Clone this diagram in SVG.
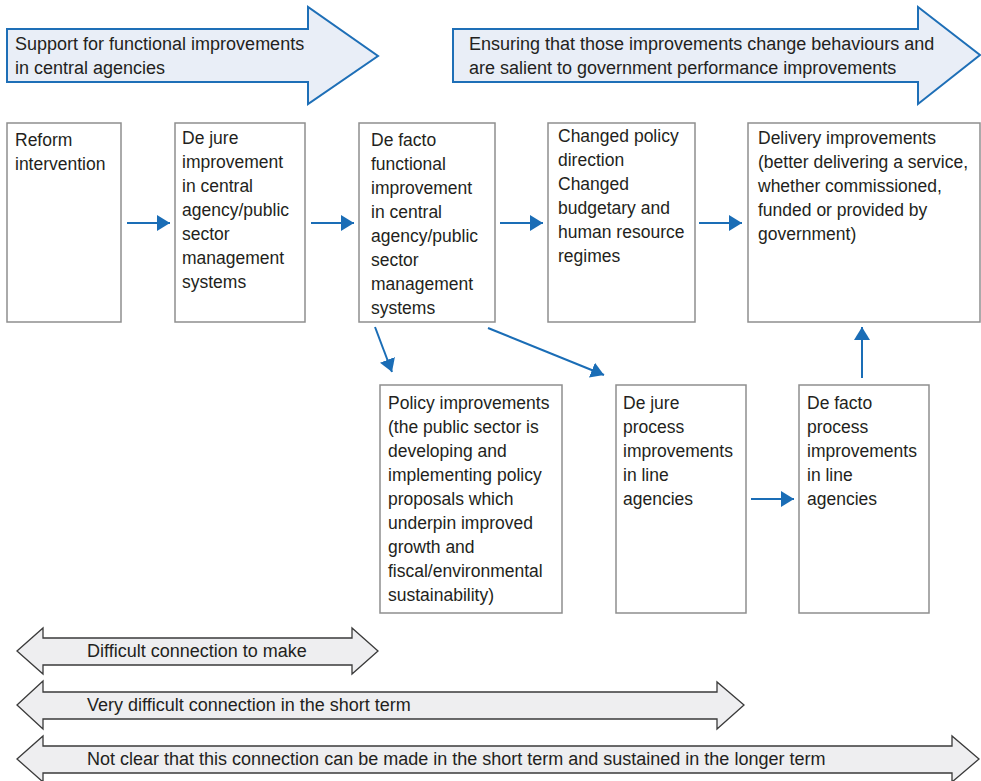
<svg xmlns="http://www.w3.org/2000/svg" width="981" height="781" viewBox="0 0 981 781">
<defs>
<style>
.band{fill:#e9eef7;stroke:#1e6fb7;stroke-width:2}
.box{fill:#ffffff;stroke:#8e8e8e;stroke-width:1.5}
.t{font-family:"Liberation Sans",Arial,sans-serif;font-size:17.5px;fill:#231f20}
.tb{font-family:"Liberation Sans",Arial,sans-serif;font-size:18px;fill:#231f20}
.conn{stroke:#1a6db6;stroke-width:2;fill:none}
.dbl{fill:#eeeef0;stroke:#3a3a3a;stroke-width:1.3}
</style>
<marker id="ah" markerUnits="userSpaceOnUse" markerWidth="14" markerHeight="16" refX="13" refY="8" orient="auto">
<path d="M0,0 L13,8 L0,16 Z" fill="#1a6db6"/>
</marker>
</defs>
<rect width="981" height="781" fill="#ffffff"/>

<g id="band1">
<polygon class="band" points="7,29 308,29 308,7 378,56 308,104 308,82 7,82"/>
<text class="tb" x="15" y="50">Support for functional improvements</text>
<text class="tb" x="15" y="74">in central agencies</text>
</g>
<g id="band2">
<polygon class="band" points="453,29 918,29 918,7 980,55 918,104 918,82 453,82"/>
<text class="tb" x="469" y="50">Ensuring that those improvements change behaviours and</text>
<text class="tb" x="469" y="74">are salient to government performance improvements</text>
</g>

<g id="n1">
<rect class="box" x="7" y="123" width="114" height="199"/>
<text class="t" x="15" y="146">Reform</text>
<text class="t" x="15" y="170">intervention</text>
</g>
<g id="n2">
<rect class="box" x="175" y="123" width="130" height="199"/>
<text class="t" x="182" y="144">De jure</text>
<text class="t" x="182" y="168">improvement</text>
<text class="t" x="182" y="192">in central</text>
<text class="t" x="182" y="216">agency/public</text>
<text class="t" x="182" y="240">sector</text>
<text class="t" x="182" y="264">management</text>
<text class="t" x="182" y="288">systems</text>
</g>
<g id="n3">
<rect class="box" x="359" y="123" width="136" height="199"/>
<text class="t" x="371" y="146">De facto</text>
<text class="t" x="371" y="170">functional</text>
<text class="t" x="371" y="194">improvement</text>
<text class="t" x="371" y="218">in central</text>
<text class="t" x="371" y="242">agency/public</text>
<text class="t" x="371" y="266">sector</text>
<text class="t" x="371" y="290">management</text>
<text class="t" x="371" y="314">systems</text>
</g>
<g id="n4">
<rect class="box" x="548" y="123" width="147" height="199"/>
<text class="t" x="558" y="142">Changed policy</text>
<text class="t" x="558" y="166">direction</text>
<text class="t" x="558" y="190">Changed</text>
<text class="t" x="558" y="214">budgetary and</text>
<text class="t" x="558" y="238">human resource</text>
<text class="t" x="558" y="262">regimes</text>
</g>
<g id="n5">
<rect class="box" x="748" y="123" width="232" height="199"/>
<text class="t" x="758" y="144">Delivery improvements</text>
<text class="t" x="758" y="168">(better delivering a service,</text>
<text class="t" x="758" y="192">whether commissioned,</text>
<text class="t" x="758" y="216">funded or provided by</text>
<text class="t" x="758" y="240">government)</text>
</g>
<g id="n6">
<rect class="box" x="380" y="385" width="182" height="228"/>
<text class="t" x="388" y="409">Policy improvements</text>
<text class="t" x="388" y="433">(the public sector is</text>
<text class="t" x="388" y="457">developing and</text>
<text class="t" x="388" y="481">implementing policy</text>
<text class="t" x="388" y="505">proposals which</text>
<text class="t" x="388" y="529">underpin improved</text>
<text class="t" x="388" y="553">growth and</text>
<text class="t" x="388" y="577">fiscal/environmental</text>
<text class="t" x="388" y="601">sustainability)</text>
</g>
<g id="n7">
<rect class="box" x="616" y="385" width="130" height="228"/>
<text class="t" x="623" y="409">De jure</text>
<text class="t" x="623" y="433">process</text>
<text class="t" x="623" y="457">improvements</text>
<text class="t" x="623" y="481">in line</text>
<text class="t" x="623" y="505">agencies</text>
</g>
<g id="n8">
<rect class="box" x="799" y="385" width="130" height="228"/>
<text class="t" x="807" y="409">De facto</text>
<text class="t" x="807" y="433">process</text>
<text class="t" x="807" y="457">improvements</text>
<text class="t" x="807" y="481">in line</text>
<text class="t" x="807" y="505">agencies</text>
</g>

<g id="connectors">
<line class="conn" x1="127" y1="223" x2="170" y2="223" marker-end="url(#ah)"/>
<line class="conn" x1="311" y1="223" x2="354" y2="223" marker-end="url(#ah)"/>
<line class="conn" x1="500" y1="223" x2="543" y2="223" marker-end="url(#ah)"/>
<line class="conn" x1="699" y1="223" x2="742" y2="223" marker-end="url(#ah)"/>
<line class="conn" x1="375" y1="327" x2="392" y2="372" marker-end="url(#ah)"/>
<line class="conn" x1="488" y1="328" x2="604" y2="375" marker-end="url(#ah)"/>
<line class="conn" x1="751" y1="499" x2="794" y2="499" marker-end="url(#ah)"/>
<line class="conn" x1="862" y1="378" x2="862" y2="327" marker-end="url(#ah)"/>
</g>

<g id="span1">
<polygon class="dbl" points="17,651 43,628 43,638 352,638 352,628 378,651 352,674 352,665 43,665 43,674"/>
<text class="tb" x="87" y="657">Difficult connection to make</text>
</g>
<g id="span2">
<polygon class="dbl" points="17,705 43,681 43,692 717,692 717,682 744,705 717,729 717,719 43,719 43,729"/>
<text class="tb" x="87" y="711">Very difficult connection in the short term</text>
</g>
<g id="span3">
<polygon class="dbl" points="17,759 43,736 43,746 952,746 952,736 979,759 952,782 952,773 43,773 43,782"/>
<text class="tb" x="87" y="765">Not clear that this connection can be made in the short term and sustained in the longer term</text>
</g>
</svg>
